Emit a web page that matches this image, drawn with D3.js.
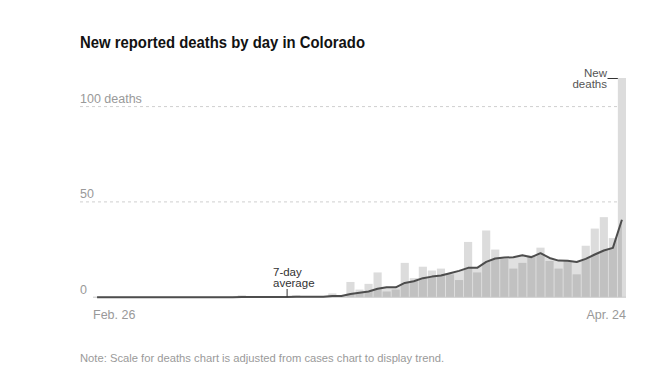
<!DOCTYPE html>
<html>
<head>
<meta charset="utf-8">
<script src="https://cdn.jsdelivr.net/npm/d3@7"></script>
<style>
  html, body { margin: 0; padding: 0; background: #fff; }
  svg { display: block; font-family: "Liberation Sans", Arial, sans-serif; }
</style>
</head>
<body>
<svg id="chart" width="651" height="390"></svg>
<script>
// ---- Data ----
const dates = [
  "Feb 26","Feb 27","Feb 28","Feb 29",
  "Mar 1","Mar 2","Mar 3","Mar 4","Mar 5","Mar 6","Mar 7","Mar 8","Mar 9","Mar 10",
  "Mar 11","Mar 12","Mar 13","Mar 14","Mar 15","Mar 16","Mar 17","Mar 18","Mar 19","Mar 20",
  "Mar 21","Mar 22","Mar 23","Mar 24","Mar 25","Mar 26","Mar 27","Mar 28","Mar 29","Mar 30","Mar 31",
  "Apr 1","Apr 2","Apr 3","Apr 4","Apr 5","Apr 6","Apr 7","Apr 8","Apr 9","Apr 10",
  "Apr 11","Apr 12","Apr 13","Apr 14","Apr 15","Apr 16","Apr 17","Apr 18","Apr 19","Apr 20",
  "Apr 21","Apr 22","Apr 23","Apr 24"
];
const newDeaths = [
  0,0,0,0, 0,0,0,0,0,0,0,0,0,0, 0,0,1,0,0,0,0,0,1,0,
  0,0,2,0,8,4,7,13,3,4,18,
  10,16,14,15,12,9,29,13,35,25,
  20,15,18,22,26,19,15,19,12,27,
  36,42,31,115
];
const avg7 = [
  0,0,0,0, 0,0,0,0,0,0,0,0,0,0, 0,0,0.15,0.15,0.15,0.15,0.15,0.15,0.3,0.3,
  0.3,0.3,0.6,0.6,1.7,2.3,3.0,4.4,5.2,5.2,7.5,
  8.4,10.0,10.8,11.4,12.6,13.8,15.4,15.4,18.5,20.3,
  20.8,21.0,22.0,21.0,23.1,20.6,19.2,19.1,18.5,20.1,
  22.4,24.5,25.9,40.6
];
const yTicks = [0, 50, 100];
const yTickLabels = ["0", "50", "100 deaths"];
const xTickDates = ["Feb 26", "Apr 24"];
const xTickLabels = ["Feb. 26", "Apr. 24"];

const title = "New reported deaths by day in Colorado";
const note = "Note: Scale for deaths chart is adjusted from cases chart to display trend.";

// ---- Layout ----
const svg = d3.select("#chart");
const left = 93, right = 626, baseY = 297.2, y100 = 106.6;

const x = d3.scaleBand().domain(dates).range([left, right]).paddingInner(0.1).paddingOuter(0);
const y = d3.scaleLinear().domain([0, 100]).range([baseY, y100]);

// Title
svg.append("text")
  .attr("x", 80).attr("y", 47.5)
  .attr("font-size", 16.8).attr("font-weight", "bold")
  .attr("fill", "#121212")
  .attr("textLength", 285).attr("lengthAdjust", "spacingAndGlyphs")
  .text(title);

// Gridlines (dashed) for non-zero ticks
svg.append("g").selectAll("line")
  .data(yTicks.filter(d => d > 0))
  .join("line")
  .attr("x1", 80).attr("x2", right)
  .attr("y1", d => y(d)).attr("y2", d => y(d))
  .attr("stroke", "#cfcfcf").attr("stroke-width", 1)
  .attr("stroke-dasharray", "3,3");

// Y tick labels
svg.append("g").selectAll("text")
  .data(yTicks)
  .join("text")
  .attr("x", 80)
  .attr("y", d => y(d) - 3.5)
  .attr("font-size", 12.5)
  .attr("fill", "#999")
  .text((d, i) => yTickLabels[i]);

// Bars
svg.append("g").selectAll("rect")
  .data(dates)
  .join("rect")
  .attr("x", d => x(d))
  .attr("width", x.bandwidth())
  .attr("y", (d, i) => y(newDeaths[i]))
  .attr("height", (d, i) => baseY - y(newDeaths[i]))
  .attr("fill", "#dcdcdc");

// Area under 7-day average
const cx = (d) => x(d) + x.bandwidth() / 2;
const area = d3.area()
  .x((d, i) => cx(dates[i]))
  .y0(baseY)
  .y1(d => y(d));
svg.append("path")
  .datum(avg7)
  .attr("d", area)
  .attr("fill", "rgba(0,0,0,0.12)");

// Baseline
svg.append("line")
  .attr("x1", left).attr("x2", right)
  .attr("y1", baseY).attr("y2", baseY)
  .attr("stroke", "#c8c8c8").attr("stroke-width", 1);

// 7-day average line
const line = d3.line()
  .x((d, i) => cx(dates[i]))
  .y(d => y(d));
svg.append("path")
  .datum(avg7)
  .attr("d", line)
  .attr("fill", "none")
  .attr("stroke", "#4d4d4d")
  .attr("stroke-width", 2)
  .attr("stroke-linejoin", "round");

// X tick labels
svg.append("g").selectAll("text")
  .data(xTickDates)
  .join("text")
  .attr("x", (d, i) => i === 0 ? x(d) : x(d) + x.bandwidth())
  .attr("y", 318.5)
  .attr("text-anchor", (d, i) => i === 0 ? "start" : "end")
  .attr("font-size", 12.5)
  .attr("fill", "#999")
  .text((d, i) => xTickLabels[i]);

// Annotation: 7-day average
const annDate = "Mar 18";
const annX = cx(annDate);
svg.append("line")
  .attr("x1", annX).attr("x2", annX)
  .attr("y1", 289).attr("y2", y(avg7[dates.indexOf(annDate)]))
  .attr("stroke", "#333").attr("stroke-width", 1);
const annText = svg.append("text")
  .attr("x", 273).attr("font-size", 11.5).attr("fill", "#333");
annText.append("tspan").attr("x", 273).attr("y", 276).text("7-day");
annText.append("tspan").attr("x", 273).attr("y", 287).text("average");

// Annotation: New deaths
const lastDate = dates[dates.length - 1];
const lastTop = y(newDeaths[newDeaths.length - 1]);
svg.append("line")
  .attr("x1", 607.5).attr("x2", x(lastDate))
  .attr("y1", lastTop + 0.5).attr("y2", lastTop + 0.5)
  .attr("stroke", "#333").attr("stroke-width", 1);
const ndText = svg.append("text")
  .attr("text-anchor", "end").attr("font-size", 11.5).attr("fill", "#555");
ndText.append("tspan").attr("x", 607).attr("y", 77).text("New");
ndText.append("tspan").attr("x", 607).attr("y", 88).text("deaths");

// Note
svg.append("text")
  .attr("x", 80).attr("y", 362)
  .attr("font-size", 11.5)
  .attr("fill", "#9a9a9a")
  .attr("textLength", 364).attr("lengthAdjust", "spacingAndGlyphs")
  .text(note);
</script>
</body>
</html>
